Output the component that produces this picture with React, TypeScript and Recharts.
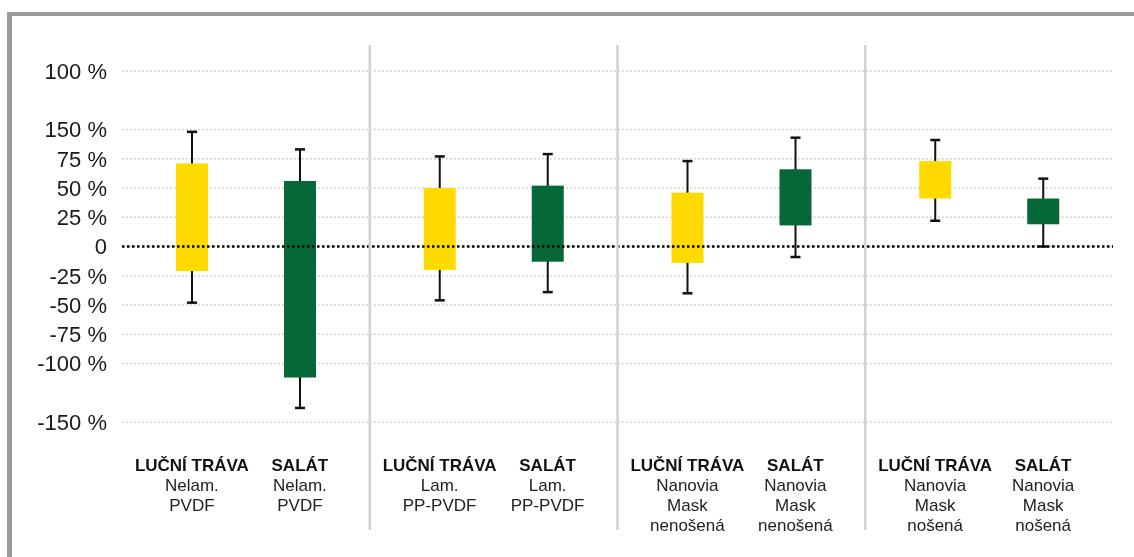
import React from 'react';
import { BarChart, Bar, XAxis, YAxis, CartesianGrid, ReferenceLine } from 'recharts';

// ---- data ----
const groupKeys = ['Nelam. PVDF', 'Lam. PP-PVDF', 'Nanovia Mask nenošená', 'Nanovia Mask nošená'];
const groupSubLabels = [
  ['Nelam.', 'PVDF'],
  ['Lam.', 'PP-PVDF'],
  ['Nanovia', 'Mask', 'nenošená'],
  ['Nanovia', 'Mask', 'nošená'],
];
const seriesNames = ['LUČNÍ TRÁVA', 'SALÁT'];

const travaBoxLow = [-21, -20, -14, 41];
const travaBoxHigh = [71, 50, 46, 73];
const travaWhiskerLow = [-48, -46, -40, 22];
const travaWhiskerHigh = [98, 77, 73, 91];

const salatBoxLow = [-112, -13, 18, 19];
const salatBoxHigh = [56, 52, 66, 41];
const salatWhiskerLow = [-138, -39, -9, 0];
const salatWhiskerHigh = [83, 79, 93, 58];

const yTicks = [150, 100, 75, 50, 25, 0, -25, -50, -75, -100, -150];
const yTickLabels = ['100 %', '150 %', '75 %', '50 %', '25 %', '0', '-25 %', '-50 %', '-75 %', '-100 %', '-150 %'];

// ---- layout / style ----
const CHART_W = 1118;
const CHART_H = 541;
const MARGIN = { top: 63, right: 13, bottom: 0, left: 0 };
const Y_AXIS_W = 114;
const X_AXIS_H = 127;
const BAR_SIZE = 32;
const BAR_GAP = 76;
const YELLOW = '#FFDA00';
const GREEN = '#056836';
const FONT = '"Liberation Sans", Arial, Helvetica, sans-serif';

const rows = groupKeys.map((name, i) => ({
  name,
  trava: [travaWhiskerLow[i], travaWhiskerHigh[i]],
  travaBox: [travaBoxLow[i], travaBoxHigh[i]],
  salat: [salatWhiskerLow[i], salatWhiskerHigh[i]],
  salatBox: [salatBoxLow[i], salatBoxHigh[i]],
}));

const labelMap = new Map<number, string>(yTicks.map((t, i) => [t, yTickLabels[i]]));

function makeShape(rangeKey: string, boxKey: string, fill: string) {
  return (props: any) => {
    const { x, y, width, height, payload } = props;
    const [lo, hi] = payload[rangeKey];
    const [bLo, bHi] = payload[boxKey];
    const k = height / (hi - lo);
    const py = (v: number) => y + (hi - v) * k;
    const cx = x + width / 2;
    return (
      <g>
        <line x1={cx} x2={cx} y1={py(hi)} y2={py(lo)} stroke="#111" strokeWidth={2} />
        <line x1={cx - 5} x2={cx + 5} y1={py(hi)} y2={py(hi)} stroke="#111" strokeWidth={2.5} />
        <line x1={cx - 5} x2={cx + 5} y1={py(lo)} y2={py(lo)} stroke="#111" strokeWidth={2.5} />
        <rect x={x} y={py(bHi)} width={width} height={py(bLo) - py(bHi)} fill={fill} />
      </g>
    );
  };
}

const travaShape = makeShape('trava', 'travaBox', YELLOW);
const salatShape = makeShape('salat', 'salatBox', GREEN);

const XTick = (props: any) => {
  const { x, y, payload } = props;
  const idx = payload.index ?? groupKeys.indexOf(payload.value);
  const plotW = CHART_W - MARGIN.left - MARGIN.right - Y_AXIS_W;
  const half = typeof payload.offset === 'number' && payload.offset > 0 ? payload.offset : plotW / groupKeys.length / 2;
  const shift = BAR_GAP / 2 + BAR_SIZE / 2;
  const subs = groupSubLabels[idx] || [];
  const cols = [x - shift, x + shift];
  return (
    <g>
      {idx < groupKeys.length - 1 && (
        <line x1={x + half} x2={x + half} y1={y - 377} y2={y + 108} stroke="#d2d2d2" strokeWidth={2.5} />
      )}
      {cols.map((cx, s) => (
        <g key={s}>
          <text x={cx} y={y + 49} textAnchor="middle" fontFamily={FONT} fontSize={17} fontWeight="bold" fill="#111">
            {seriesNames[s]}
          </text>
          {subs.map((t, j) => (
            <text key={j} x={cx} y={y + 69 + j * 20} textAnchor="middle" fontFamily={FONT} fontSize={17} fill="#222">
              {t}
            </text>
          ))}
        </g>
      ))}
    </g>
  );
};

export default function App() {
  return (
    <div style={{ position: 'relative', width: CHART_W, height: CHART_H }}>
      <div
        style={{
          position: 'fixed',
          left: 7,
          top: 12,
          right: 0,
          bottom: 0,
          borderTop: '4px solid #9a9a9a',
          borderLeft: '5px solid #9a9a9a',
        }}
      />
      <div style={{ position: 'absolute', left: 0, top: 0 }}>
        <BarChart
          width={CHART_W}
          height={CHART_H}
          data={rows}
          margin={MARGIN}
          barSize={BAR_SIZE}
          barGap={BAR_GAP}
        >
          <CartesianGrid vertical={false} stroke="#c4c4c4" strokeWidth={1.5} strokeDasharray="1.5 2.5" />
          <XAxis
            dataKey="name"
            type="category"
            height={X_AXIS_H}
            axisLine={false}
            tickLine={false}
            tickSize={0}
            tickMargin={0}
            interval={0}
            tick={<XTick />}
          />
          <YAxis
            type="number"
            domain={[-150, 150]}
            ticks={yTicks}
            interval={0}
            width={Y_AXIS_W}
            axisLine={false}
            tickLine={false}
            tickSize={0}
            tickMargin={15}
            tickFormatter={(v: number) => labelMap.get(v) ?? String(v)}
            tick={{ fontSize: 22, fill: '#1a1a1a', fontFamily: FONT }}
          />
          <ReferenceLine y={0} stroke="#000" strokeWidth={2.5} strokeDasharray="2.5 2.5" />
          <Bar dataKey="trava" fill={YELLOW} shape={travaShape} isAnimationActive={false} />
          <Bar dataKey="salat" fill={GREEN} shape={salatShape} isAnimationActive={false} />
        </BarChart>
      </div>
    </div>
  );
}
